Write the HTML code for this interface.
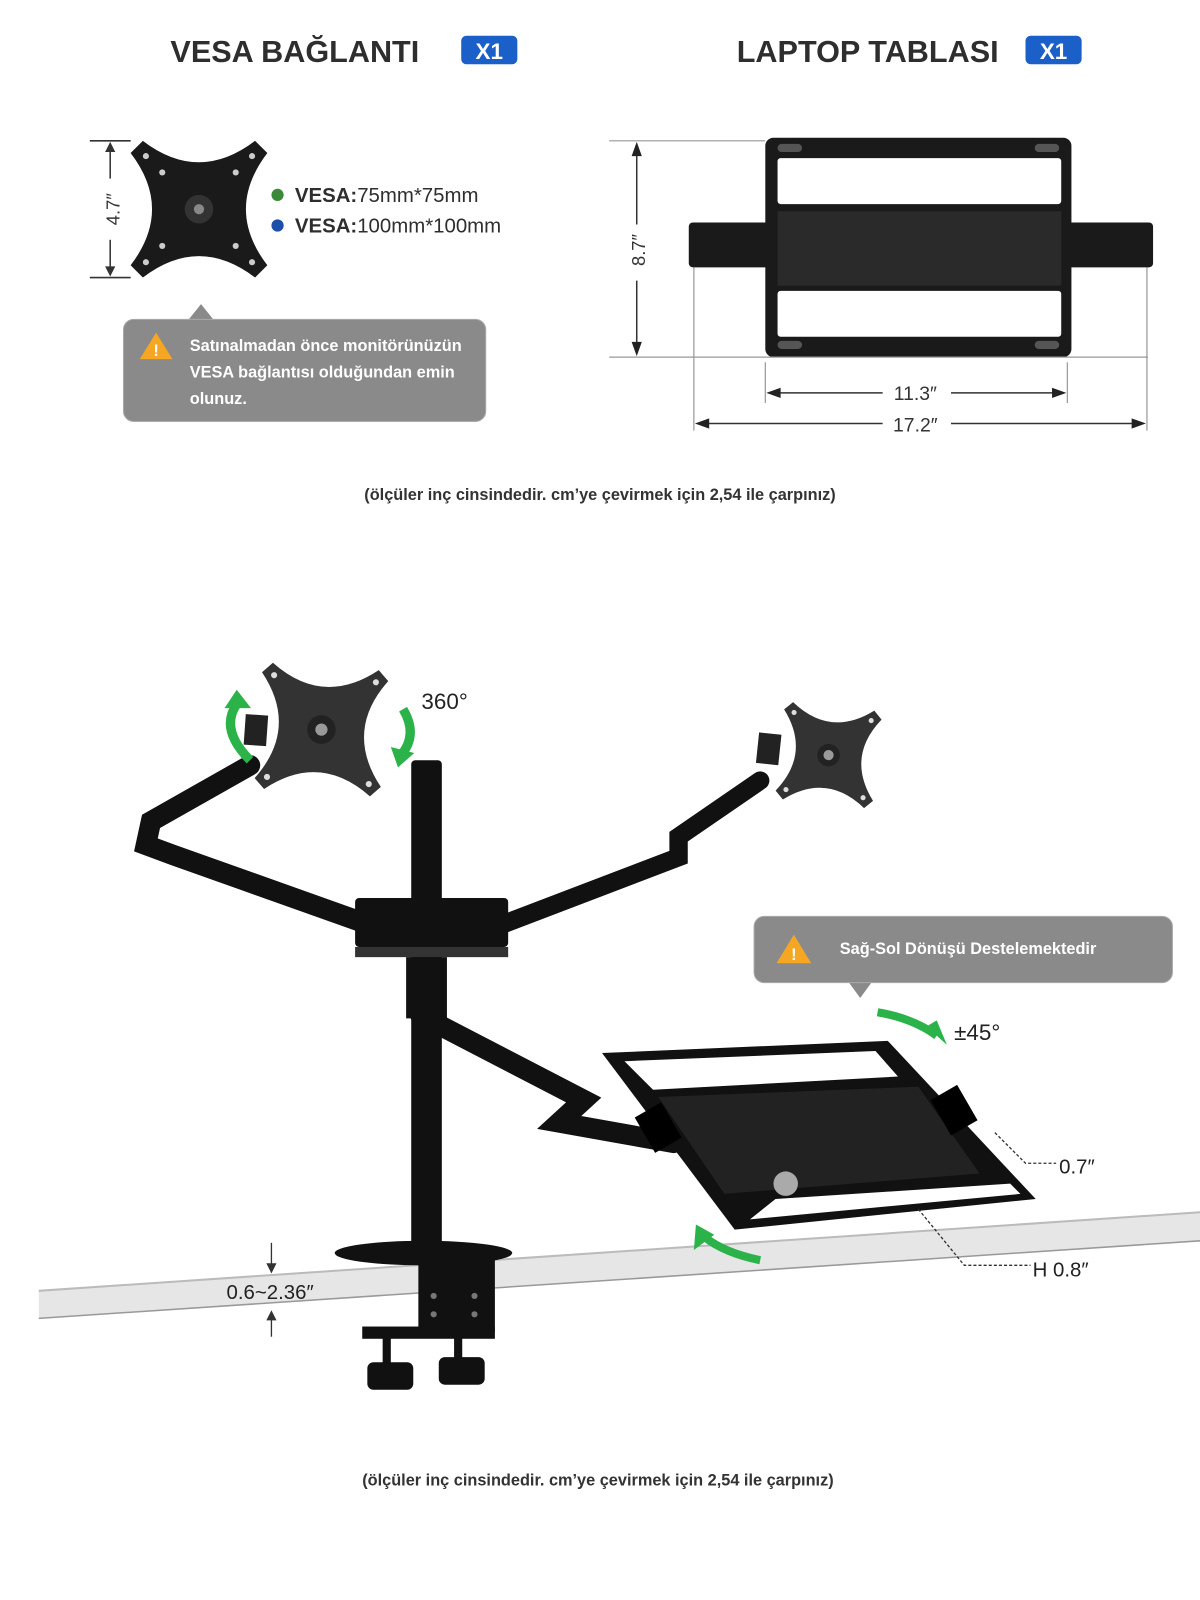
<!DOCTYPE html>
<html><head><meta charset="utf-8"><style>
html,body{margin:0;padding:0;background:#fff}
svg{display:block}
text{font-family:"Liberation Sans",sans-serif}
</style></head><body>
<svg width="1200" height="1600" viewBox="0 0 1176 1568" preserveAspectRatio="none" xmlns="http://www.w3.org/2000/svg">
<!-- Titles -->
<text x="167" y="61" font-size="30" font-weight="bold" fill="#2e2e2e">VESA BAĞLANTI</text>
<rect x="452" y="35" width="55" height="28" rx="5" fill="#1b5fc8"/>
<text x="479.5" y="58" font-size="22" font-weight="bold" fill="#fff" text-anchor="middle">X1</text>
<text x="722" y="61" font-size="30" font-weight="bold" fill="#2e2e2e">LAPTOP TABLASI</text>
<rect x="1005" y="35" width="55" height="28" rx="5" fill="#1b5fc8"/>
<text x="1032.5" y="58" font-size="22" font-weight="bold" fill="#fff" text-anchor="middle">X1</text>

<!-- VESA plate top -->
<g transform="translate(195,205)">
<path d="M-67,-55 L-55,-67 Q0,-25 55,-67 L67,-55 Q25,0 67,55 L55,67 Q0,25 -55,67 L-67,55 Q-25,0 -67,-55Z" fill="#1a1a1a"/>
<circle r="14" fill="#333"/><circle r="5" fill="#888"/>
<g fill="#ccc"><circle cx="-52" cy="-52" r="3"/><circle cx="52" cy="-52" r="3"/><circle cx="-52" cy="52" r="3"/><circle cx="52" cy="52" r="3"/>
<circle cx="-36" cy="-36" r="3"/><circle cx="36" cy="-36" r="3"/><circle cx="-36" cy="36" r="3"/><circle cx="36" cy="36" r="3"/></g>
</g>
<g stroke="#333" stroke-width="1.5"><line x1="88" y1="138" x2="128" y2="138"/><line x1="88" y1="272" x2="128" y2="272"/><line x1="108" y1="145" x2="108" y2="175"/><line x1="108" y1="235" x2="108" y2="265"/></g>
<path d="M108,139 l-5,10 h10z M108,271 l-5,-10 h10z" fill="#333"/>
<text transform="translate(117,205) rotate(-90)" font-size="18" fill="#333" text-anchor="middle">4.7″</text>
<circle cx="272" cy="191" r="6" fill="#3a8a3a"/><circle cx="272" cy="221" r="6" fill="#1b4fa8"/>
<text x="289" y="198" font-size="20" font-weight="bold" fill="#2e2e2e">VESA:<tspan font-weight="normal">75mm*75mm</tspan></text>
<text x="289" y="228" font-size="20" font-weight="bold" fill="#2e2e2e">VESA:<tspan font-weight="normal">100mm*100mm</tspan></text>

<!-- callout 1 -->
<path d="M185,313 L197,298 L209,313Z" fill="#8a8a8a"/>
<rect x="121" y="313" width="355" height="100" rx="10" fill="#8a8a8a" stroke="#aaa"/>
<path d="M153,326 L169,352 L137,352Z" fill="#f5a623"/>
<text x="153" y="349" font-size="16" font-weight="bold" fill="#fff" text-anchor="middle">!</text>
<g font-size="16" font-weight="bold" fill="#fff"><text x="186" y="344">Satınalmadan önce monitörünüzün</text><text x="186" y="370">VESA bağlantısı olduğundan emin</text><text x="186" y="396">olunuz.</text></g>

<!-- laptop tray top -->
<rect x="675" y="218" width="90" height="44" rx="4" fill="#1a1a1a"/>
<rect x="1035" y="218" width="95" height="44" rx="4" fill="#1a1a1a"/>
<rect x="750" y="135" width="300" height="215" rx="8" fill="#1a1a1a"/>
<rect x="762" y="155" width="278" height="45" rx="3" fill="#fff"/>
<rect x="762" y="285" width="278" height="45" rx="3" fill="#fff"/>
<rect x="762" y="207" width="278" height="73" fill="#2a2a2a"/>
<g fill="#555"><rect x="762" y="141" width="24" height="8" rx="4"/><rect x="1014" y="141" width="24" height="8" rx="4"/><rect x="762" y="334" width="24" height="8" rx="4"/><rect x="1014" y="334" width="24" height="8" rx="4"/></g>
<g stroke="#999" stroke-width="1.2"><line x1="597" y1="138" x2="750" y2="138"/><line x1="597" y1="350" x2="1125" y2="350"/><line x1="750" y1="355" x2="750" y2="395"/><line x1="1046" y1="355" x2="1046" y2="395"/><line x1="680" y1="262" x2="680" y2="422"/><line x1="1124" y1="262" x2="1124" y2="422"/></g>
<g stroke="#333" stroke-width="1.5"><line x1="624" y1="145" x2="624" y2="220"/><line x1="624" y1="275" x2="624" y2="345"/>
<line x1="755" y1="385" x2="865" y2="385"/><line x1="932" y1="385" x2="1042" y2="385"/><line x1="685" y1="415" x2="865" y2="415"/><line x1="932" y1="415" x2="1120" y2="415"/></g>
<path d="M624,139 l-5,14 h10z M624,349 l-5,-14 h10z M751,385 l14,-5 v10z M1045,385 l-14,-5 v10z M681,415 l14,-5 v10z M1123,415 l-14,-5 v10z" fill="#222"/>
<text transform="translate(632,245) rotate(-90)" font-size="18" fill="#333" text-anchor="middle">8.7″</text>
<text x="897" y="392" font-size="19" fill="#333" text-anchor="middle">11.3″</text>
<text x="897" y="423" font-size="19" fill="#333" text-anchor="middle">17.2″</text>

<text x="588" y="490" font-size="16" font-weight="bold" fill="#333" text-anchor="middle">(ölçüler inç cinsindedir. cm’ye çevirmek için 2,54 ile çarpınız)</text>

<!-- desk -->
<polygon points="38,1265 1176,1188 1176,1216 38,1292" fill="#e6e6e6"/>
<line x1="38" y1="1265" x2="1176" y2="1188" stroke="#bbb" stroke-width="2"/>
<line x1="38" y1="1292" x2="1176" y2="1216" stroke="#999" stroke-width="1.5"/>

<!-- pole -->
<rect x="403" y="745" width="30" height="490" rx="4" fill="#111"/>
<!-- left arm -->
<g stroke="#111" stroke-linecap="round" fill="none">
<polyline points="378,912 170,838 143,828 148,805 245,750" stroke-width="20"/>
</g>
<!-- right arm -->
<g stroke="#111" stroke-linecap="round" fill="none">
<polyline points="495,905 665,840 665,820 745,765" stroke-width="18"/>
</g>
<!-- hub -->
<rect x="348" y="880" width="150" height="48" rx="4" fill="#111"/>
<rect x="348" y="928" width="150" height="10" fill="#333"/>
<rect x="398" y="938" width="40" height="60" fill="#111"/>
<!-- laptop arm -->
<g stroke="#111" stroke-linecap="round" fill="none">
<polyline points="412,995 572,1078 548,1100 660,1120" stroke-width="20"/>
</g>
<!-- plates -->
<g transform="translate(315,715) rotate(4)">
<rect x="-75" y="-10" width="22" height="30" fill="#222"/>
<path d="M-62,-52 L-52,-62 Q0,-22 52,-62 L62,-52 Q22,0 62,52 L52,62 Q0,22 -52,62 L-62,52 Q-22,0 -62,-52Z" fill="#333"/>
<circle r="14" fill="#222"/><circle r="6" fill="#999"/>
<g fill="#ddd"><circle cx="-50" cy="-50" r="3"/><circle cx="50" cy="-50" r="3"/><circle cx="-50" cy="50" r="3"/><circle cx="50" cy="50" r="3"/></g>
</g>
<g transform="translate(812,740) rotate(6)">
<rect x="-70" y="-15" width="22" height="30" fill="#222"/>
<path d="M-48,-40 L-40,-48 Q0,-17 40,-48 L48,-40 Q17,0 48,40 L40,48 Q0,17 -40,48 L-48,40 Q-17,0 -48,-40Z" fill="#333"/>
<circle r="11" fill="#222"/><circle r="5" fill="#999"/>
<g fill="#ddd"><circle cx="-38" cy="-38" r="2.5"/><circle cx="38" cy="-38" r="2.5"/><circle cx="-38" cy="38" r="2.5"/><circle cx="38" cy="38" r="2.5"/></g>
</g>
<!-- green rotate arrows -->
<path d="M245,745 Q215,715 232,690" stroke="#2bb34a" stroke-width="9" fill="none"/>
<path d="M220,694 L232,676 L246,694Z" fill="#2bb34a"/>
<path d="M395,695 Q410,720 393,740" stroke="#2bb34a" stroke-width="9" fill="none"/>
<path d="M383,732 L390,752 L406,738Z" fill="#2bb34a"/>
<text x="413" y="695" font-size="22" fill="#222">360°</text>

<!-- laptop tray -->
<polygon points="590,1032 870,1020 1015,1175 720,1205" fill="#111"/>
<polygon points="612,1040 858,1030 880,1055 640,1068" fill="#fff"/>
<polygon points="760,1175 990,1160 1000,1170 735,1195" fill="#fff"/>
<polygon points="645,1075 900,1065 960,1150 710,1170" fill="#222"/>
<rect x="630" y="1085" width="30" height="40" fill="#000" transform="rotate(-30 645 1105)"/>
<rect x="920" y="1068" width="30" height="40" fill="#000" transform="rotate(-30 935 1088)"/>
<circle cx="770" cy="1160" r="12" fill="#aaa"/>
<path d="M860,992 Q895,998 918,1015" stroke="#2bb34a" stroke-width="8" fill="none"/>
<path d="M908,1006 L928,1024 L918,1000Z" fill="#2bb34a"/>
<text x="935" y="1019" font-size="22" fill="#222">±45°</text>
<path d="M745,1235 Q710,1228 690,1212" stroke="#2bb34a" stroke-width="8" fill="none"/>
<path d="M682,1200 L680,1225 L700,1210Z" fill="#2bb34a"/>
<g stroke="#333" stroke-width="1.3" stroke-dasharray="3,2" fill="none"><polyline points="975,1110 1005,1140 1035,1140"/><polyline points="900,1185 945,1240 1010,1240"/></g>
<text x="1038" y="1150" font-size="20" fill="#222">0.7″</text>
<text x="1012" y="1251" font-size="20" fill="#222">H 0.8″</text>

<!-- callout 2 -->
<path d="M832,963 L843,978 L854,963Z" fill="#8a8a8a"/>
<rect x="739" y="898" width="410" height="65" rx="10" fill="#8a8a8a" stroke="#aaa"/>
<path d="M778,916 L795,944 L761,944Z" fill="#f5a623"/>
<text x="778" y="941" font-size="16" font-weight="bold" fill="#fff" text-anchor="middle">!</text>
<text x="823" y="935" font-size="16" font-weight="bold" fill="#fff">Sağ-Sol Dönüşü Destelemektedir</text>

<!-- clamp -->
<ellipse cx="415" cy="1228" rx="87" ry="12" fill="#111"/>
<rect x="410" y="1235" width="75" height="70" fill="#111"/>
<rect x="355" y="1300" width="130" height="12" fill="#111"/>
<rect x="375" y="1305" width="8" height="35" fill="#111"/><rect x="445" y="1305" width="8" height="35" fill="#111"/>
<rect x="360" y="1335" width="45" height="27" rx="6" fill="#111"/><rect x="430" y="1330" width="45" height="27" rx="6" fill="#111"/>
<g fill="#777"><circle cx="425" cy="1270" r="3"/><circle cx="465" cy="1270" r="3"/><circle cx="425" cy="1288" r="3"/><circle cx="465" cy="1288" r="3"/></g>
<g stroke="#333" stroke-width="1.3"><line x1="266" y1="1218" x2="266" y2="1240"/><line x1="266" y1="1292" x2="266" y2="1310"/></g>
<path d="M266,1248 l-5,-10 h10z M266,1284 l-5,10 h10z" fill="#333"/>
<text x="222" y="1273" font-size="20" fill="#222">0.6~2.36″</text>

<text x="586" y="1456" font-size="16" font-weight="bold" fill="#333" text-anchor="middle">(ölçüler inç cinsindedir. cm’ye çevirmek için 2,54 ile çarpınız)</text>
</svg>
</body></html>
